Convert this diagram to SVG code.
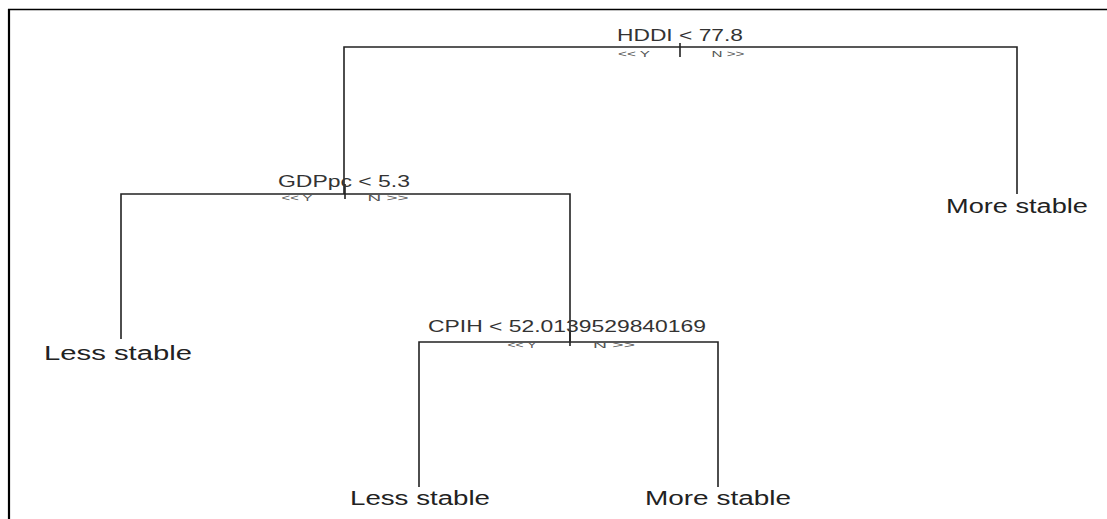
<svg xmlns="http://www.w3.org/2000/svg" width="1107" height="519" viewBox="0 0 1107 519">
<style>
.edge{stroke:#222;stroke-width:1.6;fill:none}
.frame{stroke:#000;fill:none}
.split{font-family:"Liberation Sans",Arial,sans-serif;font-size:16.5px;fill:#333;text-anchor:middle}
.leaf{font-family:"Liberation Sans",Arial,sans-serif;font-size:20px;fill:#222;text-anchor:middle}
.yn{font-family:"Liberation Sans",Arial,sans-serif;font-size:9.5px;fill:#555;text-anchor:middle}
</style>
<rect width="1107" height="519" fill="#fff"/>
<g id="frame">
<line class="frame" x1="8" y1="9.5" x2="1107" y2="9.5" stroke-width="1.5"/>
<line class="frame" x1="9" y1="9" x2="9" y2="519" stroke-width="2.2"/>
</g>
<g id="connectors">
<path class="edge" d="M344,194 V47 H1017 V194"/>
<line class="edge" x1="680" y1="43" x2="680" y2="57"/>
<path class="edge" d="M121,339 V194 H570 V341"/>
<line class="edge" x1="345" y1="184" x2="345" y2="199"/>
<path class="edge" d="M419,487 V342 H718 V487"/>
<line class="edge" x1="570" y1="330" x2="570" y2="346"/>
</g>
<g id="node-hddi">
<text class="split" x="680" y="41" textLength="126" lengthAdjust="spacingAndGlyphs">HDDI &lt; 77.8</text>
<text class="yn" x="634" y="57" textLength="32" lengthAdjust="spacingAndGlyphs">&lt;&lt; Y</text>
<text class="yn" x="728" y="57" textLength="33" lengthAdjust="spacingAndGlyphs">N &gt;&gt;</text>
</g>
<g id="node-gdppc">
<text class="split" x="344" y="187" textLength="132" lengthAdjust="spacingAndGlyphs">GDPpc &lt; 5.3</text>
<text class="yn" x="297" y="201" textLength="31" lengthAdjust="spacingAndGlyphs">&lt;&lt; Y</text>
<text class="yn" x="388" y="201" textLength="41" lengthAdjust="spacingAndGlyphs">N &gt;&gt;</text>
</g>
<g id="node-cpih">
<text class="split" x="567" y="332" textLength="278" lengthAdjust="spacingAndGlyphs">CPIH &lt; 52.0139529840169</text>
<text class="yn" x="522" y="348" textLength="29" lengthAdjust="spacingAndGlyphs">&lt;&lt; Y</text>
<text class="yn" x="614" y="348" textLength="42" lengthAdjust="spacingAndGlyphs">N &gt;&gt;</text>
</g>
<g id="leaf-more-1">
<text class="leaf" x="1017" y="213" textLength="142" lengthAdjust="spacingAndGlyphs">More stable</text>
</g>
<g id="leaf-less-1">
<text class="leaf" x="118" y="360" textLength="148" lengthAdjust="spacingAndGlyphs">Less stable</text>
</g>
<g id="leaf-less-2">
<text class="leaf" x="420" y="505" textLength="140" lengthAdjust="spacingAndGlyphs">Less stable</text>
</g>
<g id="leaf-more-2">
<text class="leaf" x="718" y="505" textLength="146" lengthAdjust="spacingAndGlyphs">More stable</text>
</g>
</svg>
